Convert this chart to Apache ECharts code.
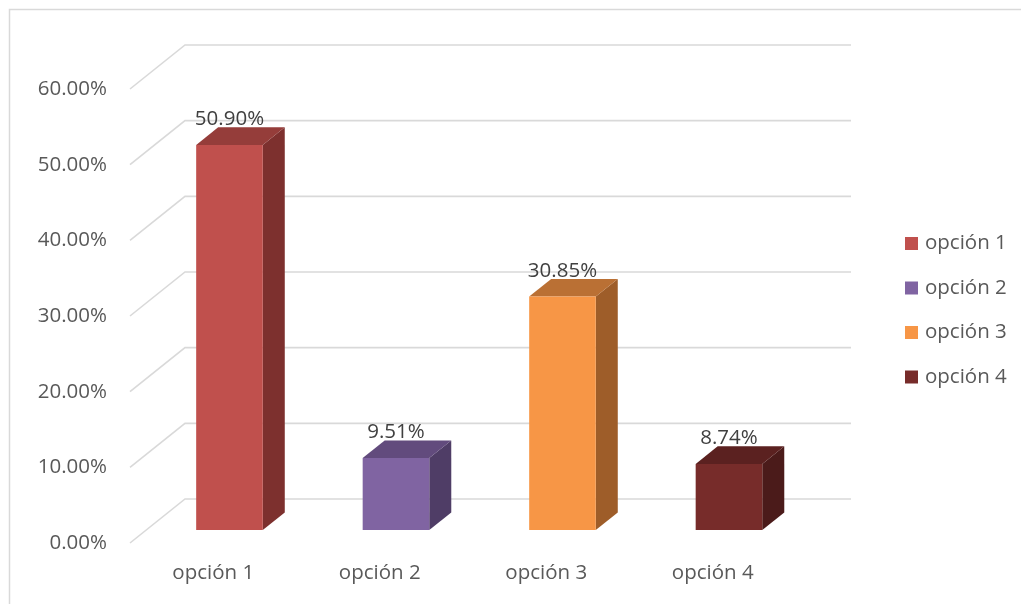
<!DOCTYPE html>
<html>
<head>
<meta charset="utf-8">
<script src="https://cdn.jsdelivr.net/npm/echarts@6/dist/echarts.min.js"></script>
<style>
  html, body { margin: 0; padding: 0; background: #fff; }
  #chart { width: 1021px; height: 604px; }
</style>
</head>
<body>
<div id="chart"></div>
<script>
// Chart data
var categories = ['opción 1', 'opción 2', 'opción 3', 'opción 4'];
var values = [50.90, 9.51, 30.85, 8.74];
var yTicks = [0, 10, 20, 30, 40, 50, 60];

// Face colours for each bar: front, top, side
var frontColors = ['#C0504D', '#8064A2', '#F79646', '#772C2A'];
var topColors = ['#953D3A', '#624B7D', '#BA7034', '#5B2120'];
var sideColors = ['#7D302E', '#4F3D66', '#9E5D29', '#4B1B1A'];

// Oblique projection of the floor depth
var DEPTH_X = 55, DEPTH_Y = 44;
var BAR_FRONT = 0.295;   // bar front face position within the depth
var BAR_DEPTH = 0.4;     // bar depth as a fraction of the floor depth
var BAR_WIDTH = 0.4;     // bar width as a fraction of the category band

var FONT = 'Open Sans';
var chart = echarts.init(document.getElementById('chart'));

function gridRender(params, api) {
  var cs = params.coordSys;
  var y = api.coord([0, api.value(0)])[1];
  var x0 = cs.x;
  return {
    type: 'polyline',
    shape: { points: [[x0, y], [x0 + DEPTH_X, y - DEPTH_Y], [x0 + cs.width + DEPTH_X, y - DEPTH_Y]] },
    style: { stroke: '#D9D9D9', lineWidth: 1.6, fill: null },
    silent: true
  };
}

function makeBarRender(idx) {
  return function (params, api) {
    var c = api.coord([api.value(0), api.value(1)]);
    var base = api.coord([api.value(0), 0]);
    var band = api.size([1, 0])[0];
    var w = band * BAR_WIDTH;
    var fx = DEPTH_X * BAR_FRONT, fy = DEPTH_Y * BAR_FRONT;
    var dx = DEPTH_X * BAR_DEPTH, dy = DEPTH_Y * BAR_DEPTH;
    var cx = c[0] + fx;
    var xl = cx - w / 2, xr = cx + w / 2;
    var yt = c[1] - fy, yb = base[1] - fy;
    var label = api.value(1).toFixed(2) + '%';
    return {
      type: 'group',
      children: [
        { type: 'polygon', shape: { points: [[xr, yb], [xr + dx, yb - dy], [xr + dx, yt - dy], [xr, yt]] },
          style: { fill: sideColors[idx] } },
        { type: 'polygon', shape: { points: [[xl, yt], [xl + dx, yt - dy], [xr + dx, yt - dy], [xr, yt]] },
          style: { fill: topColors[idx] } },
        { type: 'rect', shape: { x: xl, y: yt, width: w, height: yb - yt },
          style: { fill: frontColors[idx] } },
        { type: 'text', x: cx, y: yt - dy - 8,
          style: { text: label, fill: '#404040', font: '20.5px "' + FONT + '"', align: 'center', verticalAlign: 'middle' } }
      ]
    };
  };
}

var series = [{
  type: 'custom',
  name: 'grid',
  data: yTicks.map(function (v) { return [v]; }),
  renderItem: gridRender,
  encode: { y: 0 },
  clip: false,
  silent: true,
  z: 1
}];

categories.forEach(function (name, i) {
  series.push({
    type: 'custom',
    name: name,
    color: frontColors[i],
    data: [[i, values[i]]],
    encode: { x: 0, y: 1 },
    renderItem: makeBarRender(i),
    clip: false,
    z: 2
  });
});

chart.setOption({
  animation: false,
  backgroundColor: '#fff',
  textStyle: { fontFamily: FONT },
  graphic: [{
    type: 'rect',
    shape: { x: 9.5, y: 9.5, width: 1030, height: 620 },
    style: { fill: null, stroke: '#D9D9D9', lineWidth: 1.5 },
    silent: true
  }],
  grid: { left: 130, right: 225, top: 89, bottom: 61 },
  legend: {
    data: categories,
    orient: 'vertical',
    left: 905,
    top: 233,
    padding: 0,
    icon: 'rect',
    itemWidth: 13,
    itemHeight: 13,
    itemGap: 23.5,
    textStyle: { color: '#595959', fontSize: 20.5, fontFamily: FONT, lineHeight: 20, padding: [0, 0, 0, 2] },
    selectedMode: false
  },
  xAxis: {
    type: 'category',
    data: categories,
    axisLine: { show: false },
    axisTick: { show: false },
    splitLine: { show: false },
    axisLabel: { color: '#595959', fontSize: 20.5, fontFamily: FONT, margin: 20 }
  },
  yAxis: {
    type: 'value',
    min: 0,
    max: 60,
    interval: 10,
    axisLine: { show: false },
    axisTick: { show: false },
    splitLine: { show: false },
    axisLabel: {
      color: '#595959', fontSize: 20.5, fontFamily: FONT, margin: 23,
      formatter: function (v) { return v.toFixed(2) + '%'; }
    }
  },
  series: series
});
</script>
</body>
</html>
